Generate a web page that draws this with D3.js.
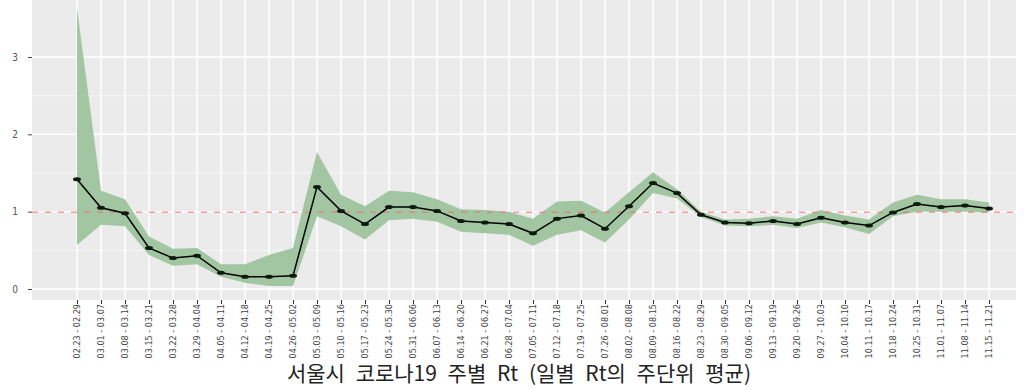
<!DOCTYPE html>
<html>
<head>
<meta charset="utf-8">
<script src="https://cdn.jsdelivr.net/npm/d3@7"></script>
<style>
  body { margin: 0; background: #fff; }
  svg { display: block; }
</style>
</head>
<body>
<div id="chart"></div>
<script>
const width = 1024;
const height = 390;

const weeks = ['02.23 - 02.29', '03.01 - 03.07', '03.08 - 03.14', '03.15 - 03.21', '03.22 - 03.28',
  '03.29 - 04.04', '04.05 - 04.11', '04.12 - 04.18', '04.19 - 04.25', '04.26 - 05.02',
  '05.03 - 05.09', '05.10 - 05.16', '05.17 - 05.23', '05.24 - 05.30', '05.31 - 06.06',
  '06.07 - 06.13', '06.14 - 06.20', '06.21 - 06.27', '06.28 - 07.04', '07.05 - 07.11',
  '07.12 - 07.18', '07.19 - 07.25', '07.26 - 08.01', '08.02 - 08.08', '08.09 - 08.15',
  '08.16 - 08.22', '08.23 - 08.29', '08.30 - 09.05', '09.06 - 09.12', '09.13 - 09.19',
  '09.20 - 09.26', '09.27 - 10.03', '10.04 - 10.10', '10.11 - 10.17', '10.18 - 10.24',
  '10.25 - 10.31', '11.01 - 11.07', '11.08 - 11.14', '11.15 - 11.21'];

const rt = [1.42, 1.05, 0.98, 0.53, 0.40, 0.43, 0.21, 0.16, 0.16, 0.17,
  1.32, 1.01, 0.84, 1.06, 1.06, 1.01, 0.88, 0.86, 0.84, 0.72,
  0.91, 0.95, 0.78, 1.07, 1.37, 1.24, 0.96, 0.86, 0.85, 0.88,
  0.84, 0.92, 0.86, 0.82, 0.99, 1.10, 1.06, 1.08, 1.04];

const rtUpper = [3.63, 1.27, 1.16, 0.68, 0.52, 0.53, 0.32, 0.32, 0.44, 0.53,
  1.77, 1.22, 1.07, 1.27, 1.25, 1.16, 1.03, 1.02, 1.00, 0.91,
  1.13, 1.14, 0.99, 1.25, 1.51, 1.29, 1.00, 0.90, 0.91, 0.94,
  0.91, 1.02, 0.95, 0.90, 1.12, 1.22, 1.16, 1.16, 1.12];

const rtLower = [0.57, 0.83, 0.81, 0.44, 0.30, 0.32, 0.16, 0.08, 0.04, 0.04,
  0.94, 0.81, 0.64, 0.89, 0.91, 0.87, 0.74, 0.72, 0.70, 0.56,
  0.70, 0.76, 0.60, 0.90, 1.24, 1.17, 0.93, 0.82, 0.81, 0.83,
  0.79, 0.86, 0.80, 0.71, 0.94, 1.00, 1.00, 1.00, 0.99];

const yTicks = [0, 1, 2, 3];
const yMinor = [0.5, 1.5, 2.5];
const refLine = 1;
const title = '서울시 코로나19 주별 Rt (일별 Rt의 주단위 평균)';

const panel = { left: 32, right: 1016, top: 0, bottom: 300 };

const svg = d3.select('#chart')
  .append('svg')
  .attr('width', width)
  .attr('height', height);

const xScale = d3.scalePoint().domain(weeks).range([77, 989]);
const yScale = d3.scaleLinear().domain([0, 3]).range([289, 57]);

const ds = weeks.map((w, i) => ({ week: w, rt: rt[i], lo: rtLower[i], hi: rtUpper[i] }));

// panel background
svg.append('rect')
  .attr('x', panel.left)
  .attr('y', panel.top)
  .attr('width', panel.right - panel.left)
  .attr('height', panel.bottom - panel.top)
  .attr('fill', '#ebebeb');

// grid
svg.selectAll('.minor').data(yMinor)
  .enter().append('line')
  .attr('x1', panel.left).attr('x2', panel.right)
  .attr('y1', d => yScale(d)).attr('y2', d => yScale(d))
  .attr('stroke', '#f6f6f6').attr('stroke-width', 1);

svg.selectAll('.major').data(yTicks)
  .enter().append('line')
  .attr('x1', panel.left).attr('x2', panel.right)
  .attr('y1', d => yScale(d)).attr('y2', d => yScale(d))
  .attr('stroke', '#fff').attr('stroke-width', 1.5);

svg.selectAll('.vgrid').data(weeks)
  .enter().append('line')
  .attr('x1', d => xScale(d)).attr('x2', d => xScale(d))
  .attr('y1', panel.top).attr('y2', panel.bottom)
  .attr('stroke', '#fff').attr('stroke-width', 1.5);

// band
const area = d3.area()
  .x(d => xScale(d.week))
  .y0(d => yScale(d.lo))
  .y1(d => yScale(d.hi));

svg.append('path')
  .datum(ds)
  .attr('d', area)
  .attr('fill', '#a1c6a1');

// reference line
svg.append('line')
  .attr('x1', panel.left).attr('x2', panel.right)
  .attr('y1', yScale(refLine) + 0.5).attr('y2', yScale(refLine) + 0.5)
  .attr('stroke', '#ee6f72')
  .attr('stroke-width', 1)
  .attr('stroke-dasharray', '6,7');

// line + points
const line = d3.line()
  .x(d => xScale(d.week))
  .y(d => yScale(d.rt));

svg.append('path')
  .datum(ds)
  .attr('d', line)
  .attr('fill', 'none')
  .attr('stroke', '#000')
  .attr('stroke-width', 1.5);

svg.selectAll('.pt').data(ds)
  .enter().append('ellipse')
  .attr('cx', d => xScale(d.week))
  .attr('cy', d => yScale(d.rt))
  .attr('rx', 4)
  .attr('ry', 2)
  .attr('fill', '#0d1a0d');

// y axis
const yAxis = d3.axisLeft(yScale).tickValues(yTicks).tickFormat(d3.format('d')).tickSize(4).tickPadding(10);
const gy = svg.append('g')
  .attr('transform', `translate(${panel.left},0)`)
  .call(yAxis);
gy.select('.domain').remove();
gy.selectAll('line').attr('stroke', '#444');
gy.selectAll('text')
  .attr('fill', '#555')
  .style('font-family', 'DejaVu Sans Condensed, DejaVu Sans')
  .style('font-size', '10px');

// x axis
const xAxis = d3.axisBottom(xScale).tickSize(4).tickPadding(4);
const gx = svg.append('g')
  .attr('transform', `translate(0,${panel.bottom})`)
  .call(xAxis);
gx.select('.domain').remove();
gx.selectAll('line').attr('stroke', '#333');
gx.selectAll('text')
  .attr('fill', '#444')
  .style('font-family', 'Liberation Sans Narrow, DejaVu Sans Condensed')
  .style('font-size', '9px')
  .attr('text-anchor', 'end')
  .attr('transform', 'rotate(-90)')
  .attr('x', -4)
  .attr('y', 0)
  .attr('dy', '0.32em');

// title
svg.append('text')
  .attr('x', 519)
  .attr('y', 381)
  .attr('text-anchor', 'middle')
  .style('font-family', 'Noto Sans CJK KR')
  .style('font-size', '21px')
  .style('word-spacing', '6px')
  .attr('fill', '#222')
  .text(title);
</script>
</body>
</html>
